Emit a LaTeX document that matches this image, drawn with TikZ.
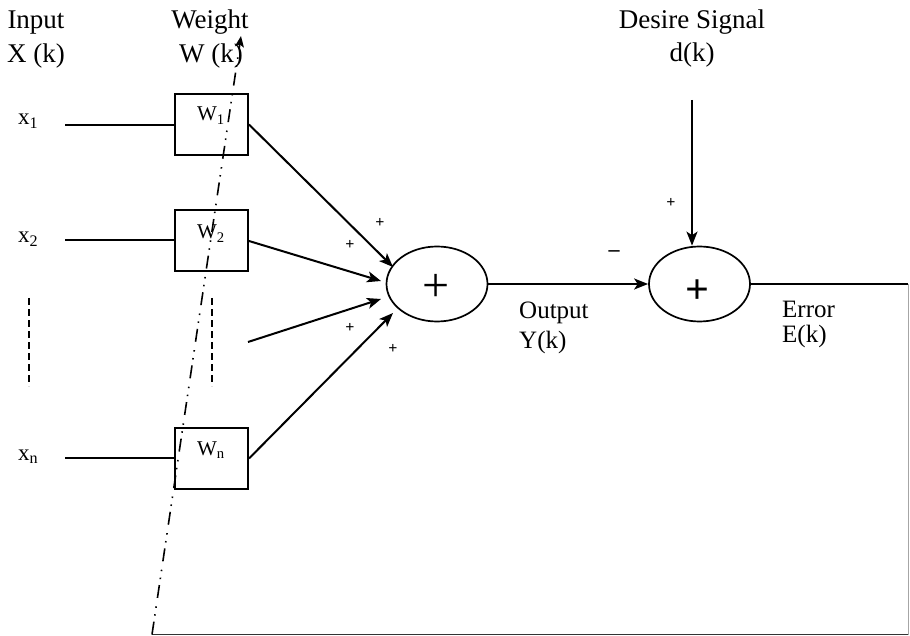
\documentclass[tikz,border=0pt]{standalone}
\usepackage{fontspec}
\setmainfont{Liberation Serif}
\usetikzlibrary{arrows.meta,shapes.geometric}
\begin{document}
\begin{tikzpicture}[x=1pt,y=-1pt,
  ln/.style={line width=2pt},
  arr/.style={line width=2pt,-{Stealth[length=14pt,width=11pt,inset=3.5pt]}},
  wbox/.style={draw,line width=2pt,minimum width=73pt,minimum height=61pt,inner sep=0pt},
  sumnode/.style={draw,ellipse,line width=1.7pt,minimum width=101pt,minimum height=75pt,inner sep=0pt},
  big/.style={font=\fontsize{27}{30}\selectfont,inner sep=0pt},
  mid/.style={font=\fontsize{25}{28}\selectfont,inner sep=0pt},
  xlab/.style={font=\fontsize{23}{26}\selectfont,inner sep=0pt,anchor=base west},
  wl/.style={font=\fontsize{21}{24}\selectfont,inner sep=0pt,anchor=base},
  sgn/.style={font=\fontsize{16}{18}\selectfont\bfseries,inner sep=0pt},
  dashv/.style={line width=1.8pt,dash pattern=on 7pt off 4pt},
  dashdotdot/.style={line width=1.6pt,dash pattern=on 13pt off 6pt on 1.5pt off 6.5pt on 1.5pt off 8.5pt}
]
\useasboundingbox (0,0) rectangle (910,636);

% headings
\node[big,anchor=base] (hin1) at (36,29) {Input};
\node[big,anchor=base] (hin2) at (36,63) {X (k)};
\node[big,anchor=base] (hw1) at (210,29) {Weight};
\node[big,anchor=base] (hw2) at (211,63) {W (k)};
\node[big,anchor=base] (hd1) at (692,29) {Desire Signal};
\node[big,anchor=base] (hd2) at (692,62) {d(k)};

% weight boxes
\node[wbox] (w1) at (211.5,124.5) {};
\node[wbox] (w2) at (211.5,241) {};
\node[wbox] (wn) at (211.5,458.5) {};
\node[wl] (w1t) at (211,121) {W\textsubscript{1}};
\node[wl] (w2t) at (211,239) {W\textsubscript{2}};
\node[wl] (wnt) at (211,455) {W\textsubscript{n}};

% inputs
\node[xlab] (x1) at (18,125) {x\textsubscript{1}};
\node[xlab] (x2) at (18,243) {x\textsubscript{2}};
\node[xlab] (xn) at (18,460) {x\textsubscript{n}};
\coordinate (i1) at (65,125);
\coordinate (i2) at (65,240.5);
\coordinate (in) at (65,458);
\draw[ln] (i1) -- (i1 -| w1.west);
\draw[ln] (i2) -- (i2 -| w2.west);
\draw[ln] (in) -- (in -| wn.west);

% dashed ellipsis lines
\coordinate (da1) at (29,298);
\coordinate (da2) at (29,386);
\coordinate (db1) at (212,298);
\coordinate (db2) at (212,386);
\draw[dashv] (da1) -- (da2);
\draw[dashv] (db1) -- (db2);

% summing junctions
\node[sumnode] (s1) at (437,284) {};
\node[sumnode] (s2) at (699.5,284) {};
\node[font=\fontsize{48}{48}\selectfont,inner sep=0pt] (p1) at (436,288) {+};
\node[font=\fontsize{42}{42}\selectfont\bfseries,inner sep=0pt] (p2) at (697.5,292) {+};

% arrows into first sum
\coordinate (t1) at (393,267);
\coordinate (t2) at (381,281);
\coordinate (t3) at (381,299);
\coordinate (t4) at (393,313);
\coordinate (w3s) at (248,342);
\draw[arr] (w1.east) -- (t1);
\draw[arr] (w2.east) -- (t2);
\draw[arr] (w3s) -- (t3);
\draw[arr] (wn.east) -- (t4);

% signs
\node[sgn] (sg1) at (380,223) {+};
\node[sgn] (sg2) at (350,245) {+};
\node[sgn] (sg3) at (350,328) {+};
\node[sgn] (sg4) at (393,349) {+};
\node[sgn] (sg5) at (671,203) {+};
\node[font=\fontsize{22}{24}\selectfont\bfseries,inner sep=0pt] (sg6) at (614,254) {–};

% output to second sum
\draw[arr] (s1.east) -- (s2.west);
\node[mid,anchor=base west] (out1) at (519,318) {Output};
\node[mid,anchor=base west] (out2) at (519,348) {Y(k)};

% desired signal
\coordinate (dtop) at (692,100);
\draw[arr] (dtop) -- (dtop |- s2.north);

% error path and feedback
\coordinate (eR) at (908,284);
\coordinate (cR) at (908,634.5);
\coordinate (fb) at (152,634.5);
\coordinate (wt) at (241,36);
\draw[ln] (s2.east) -- (eR);
\draw[line width=0.9pt,black!35] (eR) -- (cR);
\draw[line width=1.6pt,black!80] (cR) -- (fb);
\draw[dashdotdot,-{Stealth[length=11pt,width=9pt,inset=2.5pt]}] (fb) -- (wt);
\node[mid,anchor=base west] (er1) at (782,317) {Error};
\node[mid,anchor=base west] (er2) at (782,342) {E(k)};
\end{tikzpicture}
\end{document}
